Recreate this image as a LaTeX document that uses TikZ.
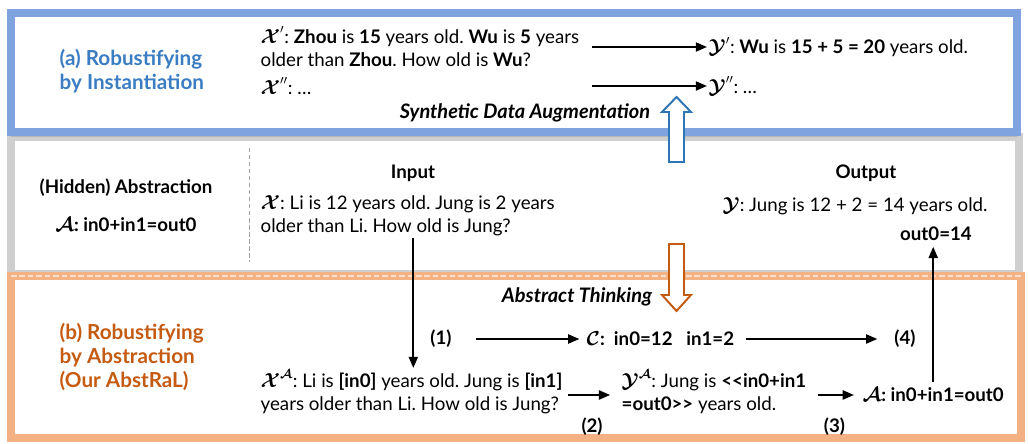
\documentclass[tikz,border=0pt]{standalone}
\usepackage{amsmath,amssymb,bm}
\usepackage{fontspec}
\setmainfont{Lato}
\frenchspacing
\usetikzlibrary{arrows.meta, positioning, calc, shadows}
\definecolor{frblue}{HTML}{7EA3DE}
\definecolor{ttblue}{HTML}{3A7DC2}
\definecolor{arblue}{HTML}{2E75B6}
\definecolor{frorange}{HTML}{F4B183}
\definecolor{ttorange}{HTML}{C55A11}
\definecolor{frgray}{HTML}{CFCFCF}

\newcommand{\cX}{\boldsymbol{\mathcal{X}}}
\newcommand{\cY}{\boldsymbol{\mathcal{Y}}}
\newcommand{\cA}{\boldsymbol{\mathcal{A}}}
\newcommand{\cC}{\boldsymbol{\mathcal{C}}}
\newcommand{\bodyfont}{\fontsize{13.3}{16.4}\selectfont}
\newcommand{\dbl}[1]{#1\kern0pt#1}

\begin{document}
\begin{tikzpicture}[
  x=0.025cm, y=-0.025cm,
  >={Triangle[length=8pt, width=6.5pt]},
  panel/.style={draw=#1, line width=5pt, fill=white},
  txt/.style={font=\bodyfont, inner sep=1pt, align=left},
  bold/.style={txt, font=\bodyfont\bfseries},
  tag/.style={font=\fontsize{14.2}{17}\selectfont\bfseries\itshape, inner sep=1pt},
  head/.style={font=\fontsize{14.7}{17.2}\selectfont\bfseries, text=#1, align=left,
    inner sep=1pt, anchor=west},
  arr/.style={->, line width=1.3pt, black},
  hollow/.style={draw=#1, line width=1.4pt, fill=white},
]

\useasboundingbox (0,0) rectangle (1028,444);

% =============================================
% Panels
% =============================================
\draw[panel=frgray, drop shadow={opacity=0.25, shadow xshift=0pt, shadow yshift=-1mm}]
  (11,137) rectangle (1019,274);
\draw[panel=frblue, drop shadow={opacity=0.3, shadow xshift=0pt, shadow yshift=-1.2mm}]
  (11,13) rectangle (1017,132);
\draw[panel=frorange] (11,276) rectangle (1021,438);
\draw[white, opacity=0.6, line width=0.8pt, dash pattern=on 4pt off 2pt]
  (11,276) -- (1021,276);

% separator
\draw[frgray!80!black, line width=0.6pt, densely dashed] (249,148) -- (249,262);

% =============================================
% Top: (a) Robustifying by Instantiation
% =============================================
\node[head=ttblue] (lbla) at (58,71) {(a) Robustifying\\by Instantiation};

\node[txt, anchor=west] (xp) at (259,46.5)
  {$\cX'$: \textbf{Zhou} is \textbf{15} years old. \textbf{Wu} is \textbf{5} years\\
   older than \textbf{Zhou}. How old is \textbf{Wu}?};
\node[txt, anchor=west] (xpp) at (259,86) {$\cX''$: \dots};
\node[txt, anchor=west] (yp) at (707,47)
  {$\cY'$: \textbf{Wu} is \textbf{15 + 5 = 20} years old.};
\node[txt, anchor=west] (ypp) at (707,86) {$\cY''$: \dots};

\draw[arr] ([xshift=8pt]xp.east |- yp) -- (yp.west);
\draw[arr] ([xshift=8pt]xp.east |- ypp) -- (ypp.west);

\node[tag] (synth) at (525,113) {Synthetic Data Augmentation};

% =============================================
% Middle: hidden abstraction, input, output
% =============================================
\node[bold] (hidden) at (126,188) {(Hidden) Abstraction};
\node[bold] (absa) at (126,225) {$\cA$: in0+in1=out0};

\node[bold] (inlbl) at (413,173) {Input};
\node[txt, anchor=west] (xin) at (259,216)
  {$\cX$: Li is 12 years old. Jung is 2 years\\older than Li. How old is Jung?};

\node[bold] (outlbl) at (866,173) {Output};
\node[txt, anchor=west] (yout) at (721,206) {$\cY$: Jung is 12 + 2 = 14 years old.};
\node[bold] (outz) at (936,234) {out0=14};

% hollow arrows
\draw[hollow=arblue] (669,162) -- (669,112) -- (662,112) -- (676.5,97)
  -- (691,112) -- (684,112) -- (684,162) -- cycle;
\draw[hollow=ttorange] (669,244) -- (669,295) -- (662,295) -- (676.5,311)
  -- (691,295) -- (684,295) -- (684,244) -- cycle;

% =============================================
% Bottom: (b) Robustifying by Abstraction
% =============================================
\node[head=ttorange] (lblb) at (58,357) {(b) Robustifying\\by Abstraction\\(Our AbstRaL)};

\node[tag] (thinking) at (577,297) {Abstract Thinking};

\node[bold] (s1) at (441,339) {(1)};
\node[bold, anchor=west] (cc) at (585,339) {$\cC$:\ \ in0=12\ \ \ in1=2};
\node[bold] (s4) at (905,339) {(4)};

\node[txt, anchor=west] (xa) at (259,392)
  {$\cX^{\cA}$: Li is \textbf{[in0]} years old. Jung is \textbf{[in1]}\\
   years older than Li. How old is Jung?};
\node[txt, anchor=west] (ya) at (620,392)
  {$\cY^{\cA}$: Jung is \textbf{\dbl{<}in0+in1}\\
   \textbf{=out0\dbl{>}} years old.};
\node[bold, anchor=west] (aform) at (861,395) {$\cA$: in0+in1=out0};

% connectors
\draw[arr] ([xshift=4pt]xin.south) -- ([xshift=4pt]xin.south |- xa.north);
\draw[arr, shorten <=16pt, shorten >=4pt] (s1) -- (cc.west);
\draw[arr, shorten <=7pt, shorten >=11pt] (cc.east) -- (s4);
\draw[arr, shorten <=3pt, shorten >=7pt] (xa.east |- aform) -- (ya.west |- aform)
  node[midway, below=12pt, font=\bodyfont\bfseries] (s2) {(2)};
\draw[arr, shorten <=7pt, shorten >=5pt] (ya.east |- aform) -- (aform.west)
  node[midway, below=12pt, font=\bodyfont\bfseries] (s3) {(3)};
\draw[arr, shorten <=3pt, shorten >=3pt] (aform.north) -- (aform.north |- outz.south);

\end{tikzpicture}
\end{document}
